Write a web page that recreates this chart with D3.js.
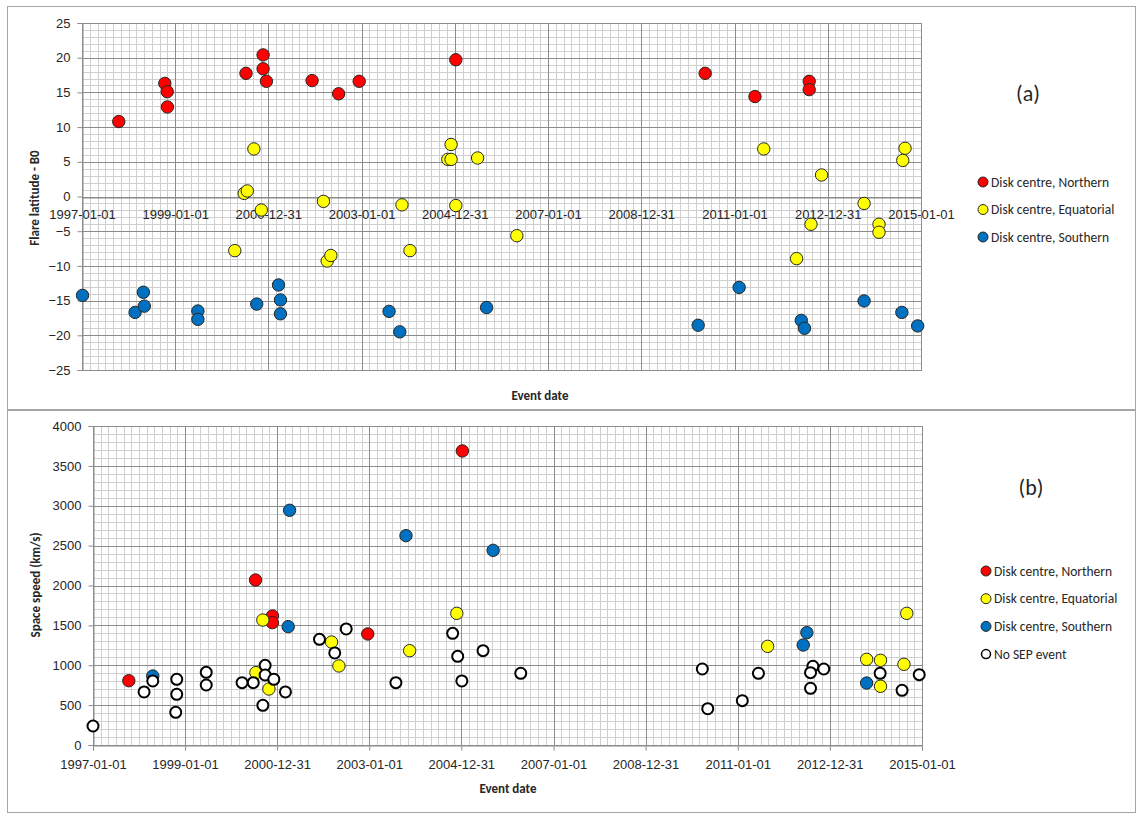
<!DOCTYPE html>
<html>
<head>
<meta charset="utf-8">
<script src="https://cdn.jsdelivr.net/npm/d3@7/dist/d3.min.js"></script>
<style>
  html, body { margin: 0; padding: 0; background: #fff; }
  svg { display: block; font-family: Carlito, Lato, "Open Sans", sans-serif; }
</style>
</head>
<body>
<svg id="chart" width="1139" height="814"></svg>
<script>
// ---- Tick labels shared by both date axes ----
const dateTicks = ["1997-01-01", "1999-01-01", "2000-12-31", "2003-01-01", "2004-12-31",
                   "2007-01-01", "2008-12-31", "2011-01-01", "2012-12-31", "2015-01-01"];
const latTicks = [25, 20, 15, 10, 5, 0, -5, -10, -15, -20, -25];
const speedTicks = [0, 500, 1000, 1500, 2000, 2500, 3000, 3500, 4000];

// ---- (a) Flare latitude minus B0 ----
const latNorthDates = ["1997-10-16", "1998-10-12", "1998-10-31", "1998-11-01", "2000-07-09", "2000-11-20",
  "2000-11-20", "2000-12-16", "2001-12-09", "2002-07-05", "2002-12-13", "2005-01-08", "2010-05-16",
  "2011-06-10", "2012-08-08", "2012-08-08"];
const latNorthValues = [10.8, 16.3, 15.1, 12.9, 17.75, 20.4, 18.4, 16.6, 16.7, 14.8, 16.6, 19.7, 17.75,
  14.4, 16.6, 15.4];

const latEquatDates = ["2000-09-09", "2000-06-25", "2000-07-19", "2000-11-06", "2002-03-08", "2003-11-13",
  "2004-12-02", "2004-11-06", "2004-12-02", "2005-01-08", "2005-06-28", "2000-04-12", "2002-04-06",
  "2002-05-05", "2004-01-15", "2011-08-18", "2014-08-29", "2014-08-11", "2012-11-13", "2013-10-12",
  "2006-05-01", "2012-08-22", "2014-02-06", "2014-02-06", "2012-05-01"];
const latEquatValues = [6.85, 0.45, 0.8, -1.95, -0.7, -1.2, 7.5, 5.35, 5.35, -1.3, 5.55, -7.8, -9.3,
  -8.5, -7.8, 6.85, 6.95, 5.2, 3.1, -1.0, -5.65, -4.0, -4.0, -5.15, -8.95];

const latSouthDates = ["1997-01-05", "1998-02-21", "1998-04-27", "1998-05-04", "1999-06-28", "1999-06-28",
  "2000-10-01", "2001-03-21", "2001-04-05", "2001-04-05", "2003-08-04", "2003-10-27", "2005-09-06",
  "2010-03-22", "2011-02-06", "2012-06-07", "2012-07-02", "2013-10-12", "2014-08-04", "2014-12-06"];
const latSouthValues = [-14.25, -16.7, -13.8, -15.8, -16.5, -17.7, -15.5, -12.75, -14.9, -16.9, -16.55,
  -19.5, -16.0, -18.55, -13.1, -17.85, -19.0, -15.05, -16.7, -18.65];

// ---- (b) CME space speed ----
const spdNorthDates = ["1997-10-12", "2000-11-24", "2000-11-24", "2002-12-20", "2000-07-13", "2005-01-08"];
const spdNorthValues = [806, 1618, 1534, 1392, 2069, 3687];

const spdEquatDates = ["2000-09-09", "2000-07-16", "2000-10-27", "2002-03-08", "2002-05-05", "2003-11-17",
  "2004-11-25", "2011-08-26", "2013-10-19", "2014-02-06", "2014-02-06", "2014-08-11", "2014-09-02"];
const spdEquatValues = [1567, 907, 702, 1291, 991, 1183, 1651, 1237, 1074, 1062, 736, 1012, 1651];

const spdSouthDates = ["2001-04-09", "2003-10-19", "1998-04-20", "2001-03-29", "2005-09-09", "2012-07-02",
  "2012-06-03", "2013-10-19"];
const spdSouthValues = [2943, 2625, 865, 1484, 2441, 1409, 1254, 777];

const spdNoSepDates = ["1997-01-01", "1998-02-10", "1998-04-20", "1998-10-19", "1998-10-27", "1998-10-27",
  "1999-06-18", "1999-06-18", "2000-03-28", "2000-06-25", "2000-09-09", "2000-09-27", "2000-09-27",
  "2000-12-05", "2001-03-07", "2001-12-02", "2002-04-02", "2002-07-02", "2003-07-31", "2004-10-23",
  "2004-12-02", "2005-01-04", "2005-06-21", "2006-04-16", "2010-03-26", "2010-05-08", "2011-02-06",
  "2011-06-14", "2012-08-19", "2012-07-31", "2012-07-31", "2012-11-13", "2014-02-03", "2014-07-27",
  "2014-12-10"];
const spdNoSepValues = [238, 665, 803, 410, 824, 636, 911, 752, 782, 782, 498, 999, 878, 824, 665, 1325,
  1154, 1455, 782, 1400, 1112, 803, 1183, 899, 953, 455, 556, 899, 987, 907, 711, 953, 899, 686, 882];

const seriesNames = ["Disk centre, Northern", "Disk centre, Equatorial", "Disk centre, Southern", "No SEP event"];

// ---- Styling ----
const COLORS = { north: "#ff0000", equat: "#ffff00", south: "#0070c0" };
const MINOR = "#cfcfcf", MAJOR = "#8c8c8c", TEXT = "#262626", FRAME = "#a6a6a6";

const parse = d3.timeParse("%Y-%m-%d");
const svg = d3.select("#chart");
const zip = (ds, vs) => ds.map((d, i) => ({ date: parse(d), value: vs[i] }));

// Outer frames around the two panels
svg.append("rect").attr("x", 7.5).attr("y", 6.5).attr("width", 1128).attr("height", 403)
  .attr("fill", "none").attr("stroke", FRAME);
svg.append("rect").attr("x", 7.5).attr("y", 410.5).attr("width", 1128).attr("height", 402)
  .attr("fill", "none").attr("stroke", FRAME);

function drawPanel(cfg) {
  const g = svg.append("g");
  const x = d3.scaleTime().domain([parse(dateTicks[0]), parse(dateTicks[dateTicks.length - 1])])
    .range([cfg.left, cfg.right]);
  const y = d3.scaleLinear().domain(cfg.yDomain).range([cfg.bottom, cfg.top]);

  // minor vertical grid: 12 subdivisions per major date interval
  const majors = dateTicks.map(parse);
  const minorX = [];
  for (let i = 0; i < majors.length - 1; i++) {
    const a = +majors[i], b = +majors[i + 1];
    for (let k = 1; k < 12; k++) minorX.push(new Date(a + (b - a) * k / 12));
  }
  const minorY = d3.range(cfg.yDomain[0], cfg.yDomain[1] + 1e-9, cfg.yMinor)
    .filter(v => !cfg.yTicks.includes(v));

  g.append("g").selectAll("line").data(minorX).join("line")
    .attr("x1", d => Math.round(x(d)) + 0.5).attr("x2", d => Math.round(x(d)) + 0.5)
    .attr("y1", cfg.top).attr("y2", cfg.bottom).attr("stroke", MINOR).attr("stroke-width", 1);
  g.append("g").selectAll("line").data(minorY).join("line")
    .attr("y1", d => Math.round(y(d)) + 0.5).attr("y2", d => Math.round(y(d)) + 0.5)
    .attr("x1", cfg.left).attr("x2", cfg.right).attr("stroke", MINOR).attr("stroke-width", 1);

  // major grid
  g.append("g").selectAll("line").data(majors).join("line")
    .attr("x1", d => Math.round(x(d)) + 0.5).attr("x2", d => Math.round(x(d)) + 0.5)
    .attr("y1", cfg.top).attr("y2", cfg.bottom).attr("stroke", MAJOR).attr("stroke-width", 1);
  g.append("g").selectAll("line").data(cfg.yTicks).join("line")
    .attr("y1", d => Math.round(y(d)) + 0.5).attr("y2", d => Math.round(y(d)) + 0.5)
    .attr("x1", cfg.left).attr("x2", cfg.right).attr("stroke", MAJOR).attr("stroke-width", 1);

  // y axis with outward ticks
  const yAxis = d3.axisLeft(y).tickValues(cfg.yTicks).tickSize(5).tickPadding(7).tickFormat(d3.format("d"));
  const ya = g.append("g").attr("transform", `translate(${Math.round(cfg.left) + 0.5},0)`).call(yAxis);
  ya.select(".domain").attr("stroke", MAJOR);
  ya.selectAll(".tick line").attr("stroke", MAJOR);
  ya.selectAll("text").attr("fill", TEXT).style("font-size", "13px").style("font-family", null);

  // x axis placed at cfg.xAxisAt (value on the y scale)
  const xAxis = d3.axisBottom(x).tickValues(majors).tickSize(cfg.xTickSize).tickPadding(cfg.xPad)
    .tickFormat(d3.timeFormat("%Y-%m-%d"));
  const xa = g.append("g").attr("transform", `translate(0,${Math.round(y(cfg.xAxisAt)) + 0.5})`).call(xAxis);
  xa.select(".domain").attr("stroke", MAJOR);
  xa.selectAll(".tick line").attr("stroke", MAJOR);
  xa.selectAll("text").attr("fill", TEXT).style("font-size", "13px").style("font-family", null);

  // plot frame
  g.append("rect").attr("x", Math.round(cfg.left) + 0.5).attr("y", Math.round(cfg.top) + 0.5)
    .attr("width", Math.round(cfg.right) - Math.round(cfg.left)).attr("height", Math.round(cfg.bottom) - Math.round(cfg.top))
    .attr("fill", "none").attr("stroke", MAJOR);

  // markers
  cfg.series.forEach(s => {
    g.append("g").selectAll("circle").data(s.data).join("circle")
      .attr("cx", d => x(d.date)).attr("cy", d => y(d.value))
      .attr("r", s.open ? 5.5 : 6.2)
      .attr("fill", s.open ? "#fff" : s.color)
      .attr("stroke", s.open ? "#000" : "#262626")
      .attr("stroke-width", s.open ? 2 : 1);
  });

  // axis titles
  g.append("text").attr("transform", `translate(${cfg.yTitleX},${cfg.yTitleY}) rotate(-90)`)
    .attr("text-anchor", "middle").attr("fill", TEXT).style("font-size", "13px").style("font-weight", "bold")
    .text(cfg.yTitle);
  g.append("text").attr("x", cfg.xTitleX).attr("y", cfg.xTitleY).attr("text-anchor", "middle")
    .attr("fill", TEXT).style("font-size", "13px").style("font-weight", "bold").text("Event date");

  // panel tag
  g.append("text").attr("x", cfg.tagX).attr("y", cfg.tagY).attr("text-anchor", "middle")
    .attr("fill", TEXT).style("font-size", "22px").text(cfg.tag);

  // legend
  cfg.series.forEach((s, i) => {
    const ly = cfg.legendY + i * cfg.legendStep;
    g.append("circle").attr("cx", cfg.legendX).attr("cy", ly).attr("r", s.open ? 4.5 : 5)
      .attr("fill", s.open ? "#fff" : s.color).attr("stroke", s.open ? "#000" : "#262626")
      .attr("stroke-width", s.open ? 1.5 : 1);
    g.append("text").attr("x", cfg.legendX + 8).attr("y", ly).attr("dy", "0.35em")
      .attr("fill", TEXT).style("font-size", "13.5px").text(s.name);
  });
}

drawPanel({
  left: 82, right: 921, top: 23, bottom: 370,
  yDomain: [-25, 25], yTicks: latTicks, yMinor: 1,
  xAxisAt: 0, xTickSize: 0, xPad: 12,
  yTitle: "Flare latitude - B0", yTitleX: 39, yTitleY: 198,
  xTitleX: 540, xTitleY: 400,
  tag: "(a)", tagX: 1028, tagY: 101,
  legendX: 983, legendY: 182, legendStep: 27.5,
  series: [
    { name: seriesNames[0], color: COLORS.north, data: zip(latNorthDates, latNorthValues) },
    { name: seriesNames[1], color: COLORS.equat, data: zip(latEquatDates, latEquatValues) },
    { name: seriesNames[2], color: COLORS.south, data: zip(latSouthDates, latSouthValues) }
  ]
});

drawPanel({
  left: 93, right: 922, top: 426, bottom: 745,
  yDomain: [0, 4000], yTicks: speedTicks, yMinor: 100,
  xAxisAt: 0, xTickSize: 5, xPad: 9,
  yTitle: "Space speed (km/s)", yTitleX: 40, yTitleY: 585,
  xTitleX: 508, xTitleY: 793,
  tag: "(b)", tagX: 1031, tagY: 495,
  legendX: 986, legendY: 571, legendStep: 27.7,
  series: [
    { name: seriesNames[0], color: COLORS.north, data: zip(spdNorthDates, spdNorthValues) },
    { name: seriesNames[1], color: COLORS.equat, data: zip(spdEquatDates, spdEquatValues) },
    { name: seriesNames[2], color: COLORS.south, data: zip(spdSouthDates, spdSouthValues) },
    { name: seriesNames[3], open: true, data: zip(spdNoSepDates, spdNoSepValues) }
  ]
});
</script>
</body>
</html>
